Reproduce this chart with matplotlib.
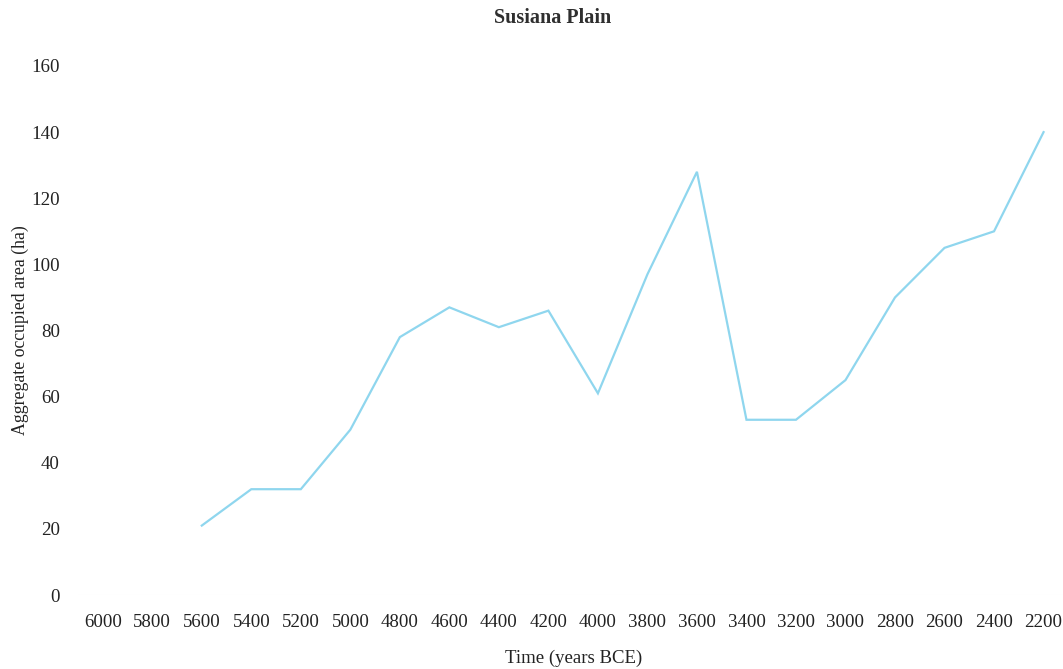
import matplotlib
matplotlib.use("Agg")
import matplotlib.pyplot as plt
import numpy as np

years = ["6000", "5800", "5600", "5400", "5200", "5000", "4800", "4600", "4400", "4200",
         "4000", "3800", "3600", "3400", "3200", "3000", "2800", "2600", "2400", "2200"]
area = [None, None, 21, 32, 32, 50, 78, 87, 81, 86,
        61, 97, 128, 53, 53, 65, 90, 105, 110, 140]
yticks = [0, 20, 40, 60, 80, 100, 120, 140, 160]

plt.rcParams['font.family'] = ['Liberation Serif', 'DejaVu Serif']

fig = plt.figure(figsize=(10.63, 6.69), dpi=100)
ax = fig.add_axes([78/1063, 1 - 595/669, 1 - 78/1063 + 0.005, (595 - 66)/669])

x = np.arange(len(years))
y = np.array([np.nan if v is None else v for v in area], dtype=float)
ax.plot(x, y, color='#8fd6ee', linewidth=1.6, solid_joinstyle='miter')

ax.set_xlim(-0.5, len(years) - 0.5)
ax.set_ylim(0, 160)
ax.set_xticks(x)
ax.set_xticklabels(years)
ax.set_yticks(yticks)
ax.tick_params(axis='both', length=0, labelsize=13.6, colors='#222222')
ax.tick_params(axis='x', pad=14)
ax.tick_params(axis='y', pad=13)
for s in ax.spines.values():
    s.set_visible(False)
ax.axhline(0, color='#eeeeee', linewidth=0.8, zorder=0)

fig.text(553/1063, 1 - 18/669, "Susiana Plain", fontsize=14.5, fontweight='bold',
         color='#2f2f2f', ha='center', va='center')
ax.set_xlabel("Time (years BCE)", fontsize=13.5, color='#222222', labelpad=13)
ax.set_ylabel("Aggregate occupied area (ha)", fontsize=12.8, color='#222222', labelpad=2)

fig.savefig("out.png", dpi=100, facecolor='white')
